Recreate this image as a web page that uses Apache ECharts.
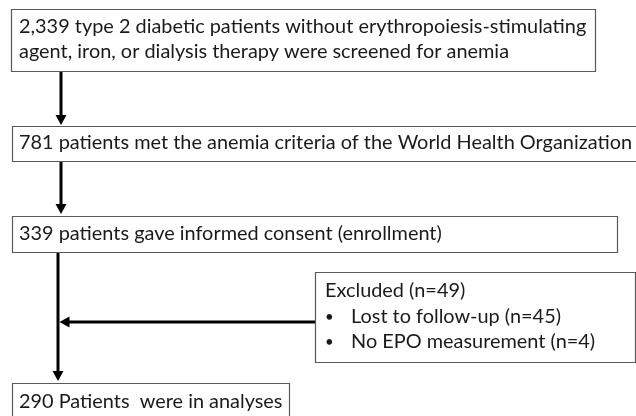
<!DOCTYPE html>
<html>
<head>
<meta charset="utf-8">
<script src="https://cdn.jsdelivr.net/npm/echarts@6/dist/echarts.min.js"></script>
<style>
  html, body { margin: 0; padding: 0; background: #fff; }
  #main { width: 636px; height: 416px; }
</style>
</head>
<body>
<div id="main"></div>
<script>
// texts of the flow boxes, top to bottom
var stepTexts = [
    "2,339 type 2 diabetic patients without erythropoiesis-stimulating\nagent, iron, or dialysis therapy were screened for anemia",
    "781 patients met the anemia criteria of the World Health Organization",
    "339 patients gave informed consent (enrollment)",
    "290 Patients  were in analyses"
];
var excludedTitle = "Excluded (n=49)";
var excludedItems = ["Lost to follow-up (n=45)", "No EPO measurement (n=4)"];

// layout (pixels)
var boxes = [
    {x: 11, y: 9, w: 584, h: 62, ty: 27},
    {x: 12, y: 126, w: 640, h: 35, ty: 143},
    {x: 12, y: 216, w: 605, h: 36, ty: 234},
    {x: 12, y: 383, w: 277, h: 50, ty: 402}
];
var exBox = {x: 315, y: 272, w: 320, h: 90};
var FONT = '19.9px Lato';
var txtColor = '#1a1a1a';
var lineColor = '#595959';

function box(b) {
    return {
        type: 'rect',
        shape: {x: b.x + 0.5, y: b.y + 0.5, width: b.w, height: b.h},
        style: {fill: '#fff', stroke: lineColor, lineWidth: 1.2}
    };
}
function text(str, x, y, font) {
    return {
        type: 'text',
        style: {text: str, x: x, y: y, font: font || FONT, fill: txtColor,
                verticalAlign: 'middle', lineHeight: 25}
    };
}
function line(points) {
    return {type: 'polyline', shape: {points: points},
            style: {stroke: '#000', lineWidth: 3}};
}
function headDown(x, tip) {
    return {type: 'polygon', shape: {points: [[x - 5.5, tip - 10], [x + 5.5, tip - 10], [x, tip]]},
            style: {fill: '#000'}};
}
function headLeft(tip, y) {
    return {type: 'polygon', shape: {points: [[tip + 10, y - 5.5], [tip + 10, y + 5.5], [tip, y]]},
            style: {fill: '#000'}};
}

var els = [];
// arrows
els.push(line([[61, 71], [61, 116]]), headDown(61, 125));
els.push(line([[61, 161], [61, 205]]), headDown(61, 214));
els.push(line([[58, 252], [58, 372]]), headDown(58, 381));
els.push(line([[315, 322], [68, 322]]), headLeft(59.5, 322));

for (var i = 0; i < stepTexts.length; i++) {
    els.push(box(boxes[i]));
    els.push(text(stepTexts[i], 19, boxes[i].ty + (i === 0 ? 12.5 : 0)));
}
els.push(box(exBox));
els.push(text(excludedTitle, 325, 291));
for (var j = 0; j < excludedItems.length; j++) {
    els.push(text('\u2022', 325, 317 + j * 25, '15px Lato'));
    els.push(text(excludedItems[j], 351, 317 + j * 25));
}

var chart = echarts.init(document.getElementById('main'), null, {renderer: 'canvas'});
chart.setOption({
    backgroundColor: '#fff',
    animation: false,
    graphic: {elements: els}
});
</script>
</body>
</html>
